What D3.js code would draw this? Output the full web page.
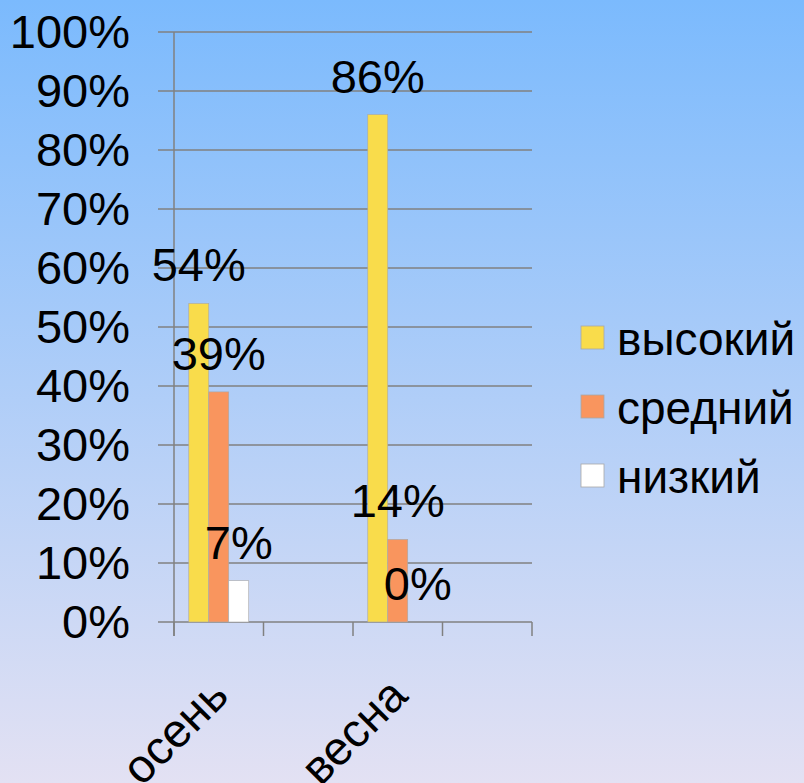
<!DOCTYPE html>
<html>
<head>
<meta charset="utf-8">
<script src="https://cdn.jsdelivr.net/npm/d3@7"></script>
<style>
  body { margin: 0; }
  svg { display: block; font-family: "Liberation Sans", Arial, sans-serif; }
</style>
</head>
<body>
<div id="viz"></div>
<script>
// chart data
const categories = ["осень", "", "весна", ""];
const seriesNames = ["высокий", "средний", "низкий"];
const vysokiy = [54, null, 86, null];
const sredniy = [39, null, 14, null];
const nizkiy = [7, null, 0, null];
const yTicks = [0, 10, 20, 30, 40, 50, 60, 70, 80, 90, 100];

const seriesValues = [vysokiy, sredniy, nizkiy];
const colors = ["#f9dc4b", "#f9955e", "#ffffff"];

document.addEventListener("DOMContentLoaded", () => {

    const width = 804;
    const height = 783;

    const svg = d3.select("#viz").append("svg")
        .attr("width", width)
        .attr("height", height);

    const grad = svg.append("defs").append("linearGradient")
        .attr("id", "bg")
        .attr("x1", 0).attr("y1", 0).attr("x2", 0).attr("y2", 1);
    grad.append("stop").attr("offset", "0%").attr("stop-color", "#7bbafd");
    grad.append("stop").attr("offset", "100%").attr("stop-color", "#e3e1f3");

    svg.append("rect")
        .attr("width", width)
        .attr("height", height)
        .attr("fill", "url(#bg)");

    const left = 174, right = 532, top = 32, bottom = 622;

    const x = d3.scaleBand()
        .domain(d3.range(categories.length))
        .range([left, right])
        .padding(0);

    const xs = d3.scaleBand()
        .domain(d3.range(seriesNames.length))
        .range([0, x.bandwidth()])
        .paddingInner(0)
        .paddingOuter(0.74);

    const y = d3.scaleLinear()
        .domain([0, 100])
        .range([bottom, top]);

    // gridlines
    svg.append("g")
        .selectAll("line")
        .data(yTicks)
        .enter()
        .append("line")
        .attr("x1", left - 16)
        .attr("x2", right)
        .attr("y1", d => y(d))
        .attr("y2", d => y(d))
        .attr("stroke", "#808080")
        .attr("stroke-width", 1.5);

    // y axis line
    svg.append("line")
        .attr("x1", left).attr("x2", left)
        .attr("y1", top).attr("y2", bottom + 14)
        .attr("stroke", "#808080")
        .attr("stroke-width", 1.5);

    // x ticks
    const xTickPos = d3.range(categories.length + 1).map(i => left + i * x.step());
    svg.append("g")
        .selectAll("line")
        .data(xTickPos)
        .enter()
        .append("line")
        .attr("x1", d => d).attr("x2", d => d)
        .attr("y1", bottom).attr("y2", bottom + 14)
        .attr("stroke", "#808080")
        .attr("stroke-width", 1.5);

    // y labels
    svg.append("g")
        .selectAll("text")
        .data(yTicks)
        .enter()
        .append("text")
        .attr("x", 130)
        .attr("y", d => y(d) + 16)
        .attr("text-anchor", "end")
        .attr("font-size", 47)
        .text(d => d + "%");

    // bars
    seriesValues.forEach((vals, s) => {
        const data = vals.map((v, i) => ({ i, v })).filter(d => d.v !== null);

        svg.append("g")
            .selectAll("rect")
            .data(data)
            .enter()
            .append("rect")
            .attr("x", d => x(d.i) + xs(s))
            .attr("width", xs.bandwidth())
            .attr("y", d => y(d.v))
            .attr("height", d => y(0) - y(d.v))
            .attr("fill", colors[s])
            .attr("stroke", "#a8a8a8")
            .attr("stroke-width", 0.6);
    });

    // value labels
    seriesValues.forEach((vals, s) => {
        const data = vals.map((v, i) => ({ i, v })).filter(d => d.v !== null);

        svg.append("g")
            .selectAll("text")
            .data(data)
            .enter()
            .append("text")
            .attr("x", d => x(d.i) + xs(s) + xs.bandwidth() / 2)
            .attr("y", d => y(d.v) - 22)
            .attr("text-anchor", "middle")
            .attr("font-size", 47)
            .text(d => d.v + "%");
    });

    // category labels
    svg.append("g")
        .selectAll("text")
        .data(categories)
        .enter()
        .append("text")
        .attr("text-anchor", "end")
        .attr("font-size", 47)
        .attr("transform", (d, i) => `translate(${x(i) + x.bandwidth() / 2 + 12},${bottom + 76}) rotate(-45)`)
        .text(d => d);

    // legend
    const legend = svg.append("g")
        .selectAll("g")
        .data(seriesNames)
        .enter()
        .append("g")
        .attr("transform", (d, i) => `translate(581,${326 + i * 69})`);

    legend.append("rect")
        .attr("width", 23)
        .attr("height", 23)
        .attr("fill", (d, i) => colors[i])
        .attr("stroke", "#a8a8a8")
        .attr("stroke-width", 0.8);

    legend.append("text")
        .attr("x", 36)
        .attr("y", 29)
        .attr("font-size", 46)
        .text(d => d);
});
</script>
</body>
</html>
